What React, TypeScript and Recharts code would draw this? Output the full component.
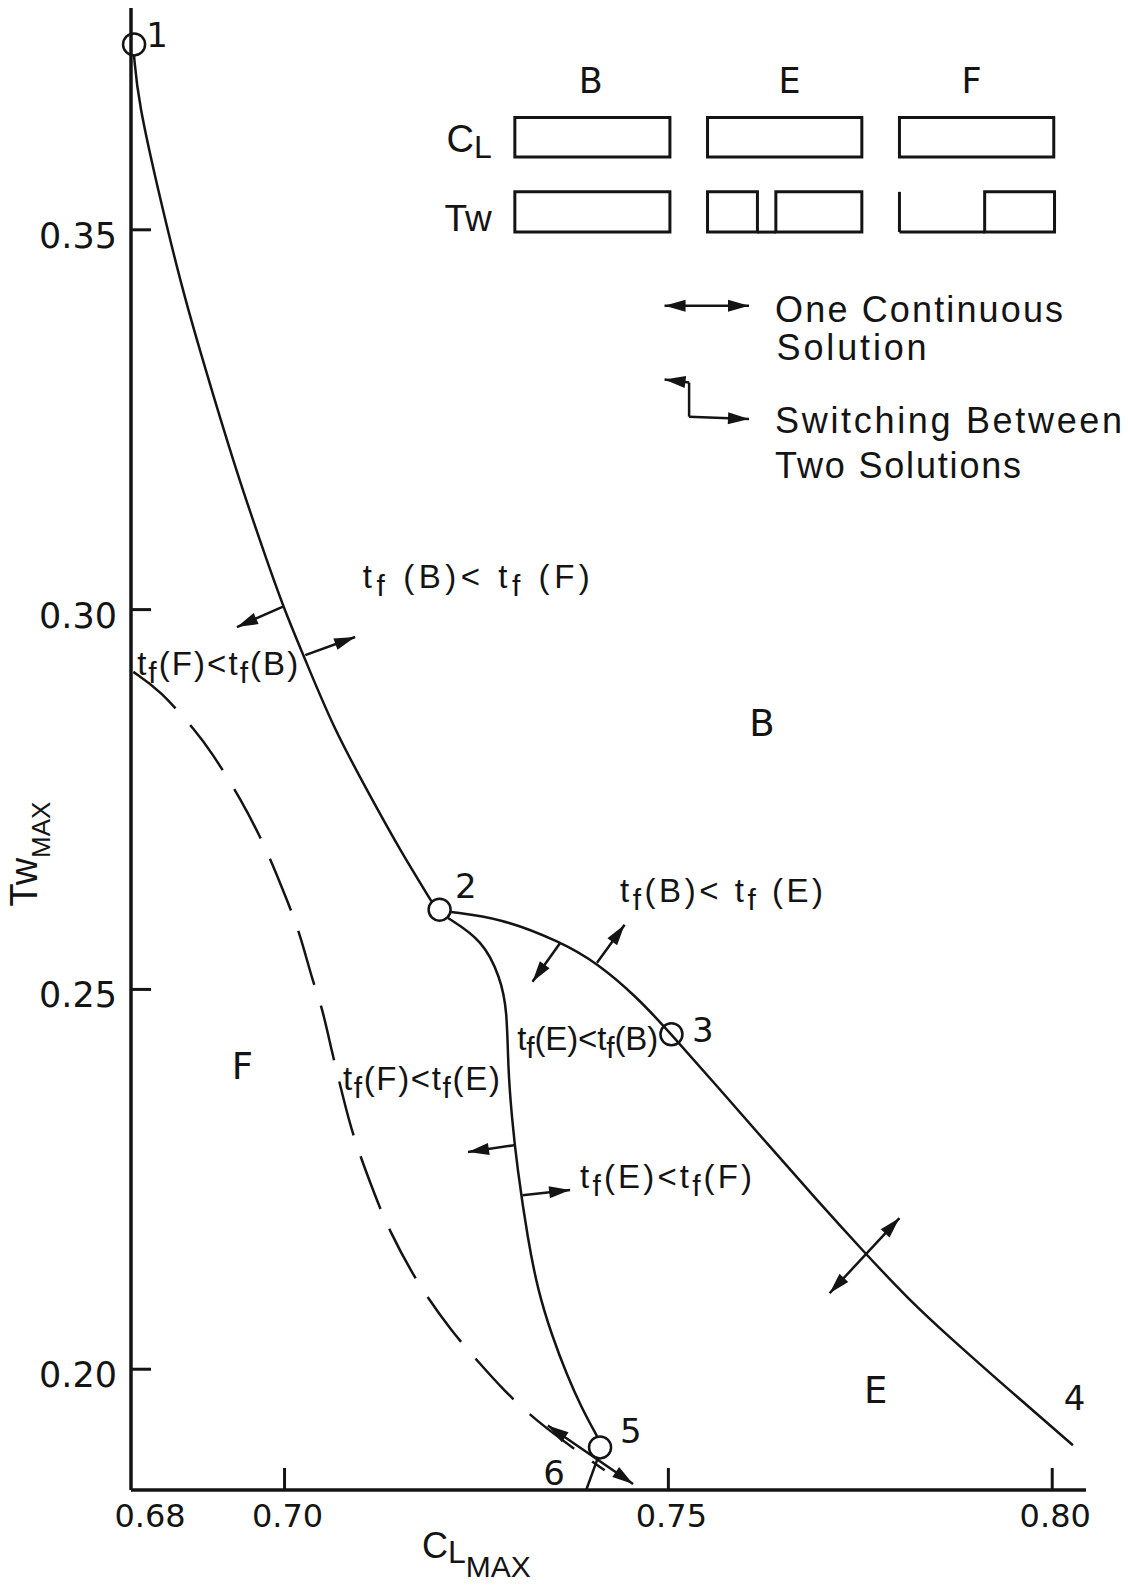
import React from "react";
import {
  Line,
  LineChart,
  ReferenceArea,
  ReferenceDot,
  ReferenceLine,
  XAxis,
  YAxis,
} from "recharts";

const INK = "#141414";
const FONT = "'DejaVu Sans', Verdana, sans-serif";
const LETTERING = "'Liberation Sans', Arial, sans-serif";

const X_DOMAIN: [number, number] = [0.68, 0.8044];
const Y_DOMAIN: [number, number] = [0.1841, 0.3792];

const xTicks = [0.68, 0.7, 0.75, 0.8];
const yTicks = [0.2, 0.25, 0.3, 0.35];

// Boundary curves as (CL_max, Tw_max) pairs.
// 1 -> 2: B / F boundary
const boundaryBF = [
  [0.6804, 0.3729], [0.6809, 0.3671], [0.6838, 0.354], [0.687, 0.3408],
  [0.6909, 0.3276], [0.6939, 0.3177], [0.6972, 0.3079], [0.6998, 0.3004],
  [0.7027, 0.2934], [0.7063, 0.2846], [0.7107, 0.2763], [0.715, 0.2684],
  [0.7192, 0.2615],
];
// 2 -> 3 -> 4: B / E boundary
const boundaryBE = [
  [0.7217, 0.2602], [0.7281, 0.2594], [0.7359, 0.2563], [0.7407, 0.2535],
  [0.7459, 0.249], [0.7502, 0.2443], [0.7563, 0.2373], [0.7628, 0.2298],
  [0.7693, 0.2223], [0.7756, 0.2153], [0.7814, 0.2091], [0.7863, 0.2045],
  [0.7948, 0.1969], [0.8027, 0.19],
];
// 2 -> 5: E / F boundary
const boundaryEF = [
  [0.7213, 0.2594], [0.7258, 0.2565], [0.7281, 0.2516], [0.729, 0.2473],
  [0.7291, 0.2398], [0.7296, 0.2332], [0.7303, 0.2266], [0.7317, 0.217],
  [0.733, 0.2104], [0.7348, 0.2045], [0.7368, 0.1992], [0.7387, 0.1949],
  [0.7407, 0.1912],
];
// 5 -> 6 down to the axis
const boundary56 = [
  [0.7393, 0.1841], [0.7408, 0.1883],
];
// dashed F boundary
const boundaryF = [
  [0.6803, 0.2918], [0.6838, 0.2894], [0.6886, 0.2838], [0.6903, 0.2815],
  [0.6942, 0.2753], [0.6977, 0.2684], [0.7003, 0.2618], [0.702, 0.2574],
  [0.7037, 0.2509], [0.7049, 0.2477], [0.7062, 0.2416], [0.7075, 0.2364],
  [0.7089, 0.2306], [0.712, 0.2223], [0.7135, 0.2186], [0.7172, 0.2114],
  [0.7219, 0.2048], [0.7254, 0.2008], [0.7283, 0.1975], [0.7326, 0.1933],
  [0.7394, 0.1883], [0.7417, 0.1867],
];

const circledPoints = [
  [0.6804, 0.3744], [0.7202, 0.2605], [0.7504, 0.2441], [0.7411, 0.1897],
];

const pointNumbers = [
  { label: "1", x: 0.6834, y: 0.3741 },
  { label: "2", x: 0.7236, y: 0.262 },
  { label: "3", x: 0.7545, y: 0.2431 },
  { label: "4", x: 0.8029, y: 0.1946 },
  { label: "5", x: 0.7451, y: 0.1903 },
  { label: "6", x: 0.7351, y: 0.1847 },
];

const regionLabels = [
  { label: "B", x: 0.7622, y: 0.2834 },
  { label: "F", x: 0.6945, y: 0.2382 },
  { label: "E", x: 0.777, y: 0.1955 },
];

const tfLabels = [
  { label: "t_f (B)< t_f (F)", x: 0.7102, y: 0.3029, width: 227 },
  { label: "t_f(F)<t_f(B)", x: 0.6808, y: 0.2914, width: 161 },
  { label: "t_f(B)< t_f (E)", x: 0.7437, y: 0.2615, width: 203 },
  { label: "t_f(E)<t_f(B)", x: 0.7303, y: 0.242, width: 141 },
  { label: "t_f(F)<t_f(E)", x: 0.7076, y: 0.2368, width: 157 },
  { label: "t_f(E)<t_f(F)", x: 0.7385, y: 0.2239, width: 172 },
];

type Heads = "none" | "end" | "both";
const arrows: { from: number[]; to: number[]; heads: Heads }[] = [
  { from: [0.6998, 0.3004], to: [0.6938, 0.2977], heads: "end" },
  { from: [0.7027, 0.294], to: [0.7092, 0.2964], heads: "end" },
  { from: [0.7359, 0.2561], to: [0.7323, 0.251], heads: "end" },
  { from: [0.7407, 0.2535], to: [0.7443, 0.2585], heads: "end" },
  { from: [0.73, 0.2295], to: [0.7239, 0.2286], heads: "end" },
  { from: [0.731, 0.2229], to: [0.7372, 0.2236], heads: "end" },
  { from: [0.771, 0.21], to: [0.7801, 0.2199], heads: "both" },
  { from: [0.7343, 0.1926], to: [0.7454, 0.1849], heads: "both" },
  // legend symbols
  { from: [0.7495, 0.34], to: [0.7605, 0.34], heads: "both" },
  { from: [0.7527, 0.3299], to: [0.7495, 0.3303], heads: "end" },
  { from: [0.7527, 0.3299], to: [0.7527, 0.3254], heads: "none" },
  { from: [0.7527, 0.3254], to: [0.7605, 0.3251], heads: "end" },
];

// control-history sketches in the top-right key: [x1, x2, y1, y2]
const keyBoxes = [
  [0.73, 0.7502, 0.3596, 0.3648],
  [0.7551, 0.7752, 0.3596, 0.3648],
  [0.7801, 0.8002, 0.3596, 0.3648],
  [0.73, 0.7502, 0.3497, 0.355],
  [0.7551, 0.7616, 0.3497, 0.355],
  [0.764, 0.7752, 0.3497, 0.355],
  [0.7912, 0.8003, 0.3497, 0.355],
];
const keyStrokes = [
  [0.7801, 0.3497, 0.7801, 0.355],
  [0.7801, 0.3497, 0.7912, 0.3497],
  [0.7616, 0.3497, 0.764, 0.3497],
];
const keyHeads = [
  { label: "B", x: 0.7399, y: 0.368 },
  { label: "E", x: 0.7658, y: 0.368 },
  { label: "F", x: 0.7895, y: 0.368 },
];
const keyText = [
  { label: "One Continuous", x: 0.7639, y: 0.3379, width: 288 },
  { label: "Solution", x: 0.7641, y: 0.3329, width: 150 },
  { label: "Switching Between", x: 0.7639, y: 0.3233, width: 347 },
  { label: "Two Solutions", x: 0.7639, y: 0.3173, width: 246 },
];

const toPoints = (rows: number[][]) => rows.map(([x, y]) => ({ x, y }));

function arrowShape(heads: Heads) {
  return (props: any) => {
    const { x1, y1, x2, y2 } = props;
    const head = (tx: number, ty: number, fx: number, fy: number) => {
      const len = Math.hypot(tx - fx, ty - fy) || 1;
      const ux = (tx - fx) / len;
      const uy = (ty - fy) / len;
      const bx = tx - ux * 21;
      const by = ty - uy * 21;
      return (
        <polygon
          points={`${tx},${ty} ${bx - uy * 6},${by + ux * 6} ${bx + uy * 6},${by - ux * 6}`}
          fill={INK}
        />
      );
    };
    return (
      <g>
        <line x1={x1} y1={y1} x2={x2} y2={y2} stroke={INK} strokeWidth={2.5} />
        {heads !== "none" && head(x2, y2, x1, y1)}
        {heads === "both" && head(x1, y1, x2, y2)}
      </g>
    );
  };
}

function TfText({ x, y, text, width }: { x: number; y: number; text: string; width: number }) {
  const parts = text.split("_f");
  const nodes: React.ReactNode[] = [];
  parts.forEach((part, i) => {
    if (i === 0) {
      nodes.push(part);
      return;
    }
    nodes.push(
      <tspan key={`f${i}`} dy={8} fontSize={30}>
        f
      </tspan>,
    );
    nodes.push(
      <tspan key={`p${i}`} dy={-8}>
        {part}
      </tspan>,
    );
  });
  return (
    <text
      x={x}
      y={y}
      fontSize={33}
      fontFamily={LETTERING}
      fill={INK}
      textLength={width}
      lengthAdjust="spacing"
      style={{ whiteSpace: "pre" }}
    >
      {nodes}
    </text>
  );
}

const XTick = (props: any) => {
  const { x, y, payload } = props;
  const corner = payload.value === xTicks[0];
  return (
    <g>
      {!corner && <line x1={x} y1={y} x2={x} y2={y - 22} stroke={INK} strokeWidth={3} />}
      <text
        x={x + (corner ? 19 : 3)}
        y={y + 37}
        textAnchor="middle"
        fontSize={32}
        fontFamily={FONT}
        fill={INK}
      >
        {payload.value.toFixed(2)}
      </text>
    </g>
  );
};

const YTick = (props: any) => {
  const { x, y, payload } = props;
  return (
    <g>
      <line x1={x} y1={y} x2={x + 20} y2={y} stroke={INK} strokeWidth={3} />
      <text x={x - 14} y={y + 18} textAnchor="end" fontSize={35} fontFamily={FONT} fill={INK}>
        {payload.value.toFixed(2)}
      </text>
    </g>
  );
};

const XLabel = (props: any) => {
  const { viewBox } = props;
  return (
    <text x={viewBox.x + 291} y={viewBox.y + 68} fontSize={36} fontFamily={LETTERING} fill={INK}>
      C
      <tspan fontSize={32} dy={5}>
        L
      </tspan>
      <tspan fontSize={30} dy={14}>
        MAX
      </tspan>
    </text>
  );
};

const YLabel = (props: any) => {
  const { viewBox } = props;
  const cx = viewBox.x + 37;
  const cy = viewBox.y + 846;
  return (
    <text
      x={cx}
      y={cy}
      textAnchor="middle"
      transform={`rotate(-90, ${cx}, ${cy})`}
      fontSize={38}
      fontFamily={LETTERING}
      fill={INK}
    >
      Tw
      <tspan fontSize={26} dy={13}>
        MAX
      </tspan>
    </text>
  );
};

const plainText =
  (
    label: string,
    size: number,
    anchor: "start" | "middle" | "end" = "middle",
    width?: number,
    family: string = FONT,
  ) =>
  (p: any) => (
    <text
      x={p.cx}
      y={p.cy}
      textAnchor={anchor}
      fontSize={size}
      fontFamily={family}
      fill={INK}
      textLength={width}
      lengthAdjust={width ? "spacing" : undefined}
    >
      {label}
    </text>
  );

const curve = (rows: number[][], key: string, dashed = false, type: "basis" | "linear" = "basis") => (
  <Line
    key={key}
    data={toPoints(rows)}
    dataKey="y"
    type={type}
    stroke={INK}
    strokeWidth={2.5}
    strokeDasharray={dashed ? "56 22" : undefined}
    dot={false}
    activeDot={false}
    isAnimationActive={false}
  />
);

export default function App() {
  return (
    <div
      style={{ position: "absolute", left: 0, top: 0, width: 1128, height: 1588, background: "#fff" }}
    >
      <LineChart width={1128} height={1588} margin={{ top: 8, right: 42, bottom: 0, left: 0 }}>
        <XAxis
          type="number"
          dataKey="x"
          domain={X_DOMAIN}
          allowDataOverflow
          ticks={xTicks}
          interval={0}
          height={98}
          tickSize={0}
          tickMargin={0}
          tickLine={false}
          axisLine={{ stroke: INK, strokeWidth: 3.5 }}
          tick={<XTick />}
          label={XLabel}
        />
        <YAxis
          type="number"
          dataKey="y"
          domain={Y_DOMAIN}
          allowDataOverflow
          ticks={yTicks}
          interval={0}
          width={131}
          tickSize={0}
          tickMargin={0}
          tickLine={false}
          axisLine={{ stroke: INK, strokeWidth: 3.5 }}
          tick={<YTick />}
          label={YLabel}
        />

        {curve(boundaryBF, "bf")}
        {curve(boundaryBE, "be")}
        {curve(boundaryEF, "ef")}
        {curve(boundary56, "56", false, "linear")}
        {curve(boundaryF, "f", true)}

        {circledPoints.map(([x, y], i) => (
          <ReferenceDot key={`c${i}`} x={x} y={y} r={11} fill="none" stroke={INK} strokeWidth={2.5} />
        ))}

        {arrows.map((a, i) => (
          <ReferenceLine
            key={`a${i}`}
            segment={[
              { x: a.from[0], y: a.from[1] },
              { x: a.to[0], y: a.to[1] },
            ]}
            shape={arrowShape(a.heads)}
          />
        ))}

        {keyBoxes.map(([x1, x2, y1, y2], i) => (
          <ReferenceArea
            key={`k${i}`}
            x1={x1}
            x2={x2}
            y1={y1}
            y2={y2}
            fill="none"
            stroke={INK}
            strokeWidth={3}
          />
        ))}
        {keyStrokes.map(([xa, ya, xb, yb], i) => (
          <ReferenceLine
            key={`ks${i}`}
            segment={[
              { x: xa, y: ya },
              { x: xb, y: yb },
            ]}
            stroke={INK}
            strokeWidth={3}
          />
        ))}

        {pointNumbers.map((t) => (
          <ReferenceDot key={`n${t.label}`} x={t.x} y={t.y} r={1} shape={plainText(t.label, 34)} />
        ))}
        {regionLabels.map((t) => (
          <ReferenceDot key={`r${t.label}`} x={t.x} y={t.y} r={1} shape={plainText(t.label, 37)} />
        ))}
        {keyHeads.map((t) => (
          <ReferenceDot key={`h${t.label}`} x={t.x} y={t.y} r={1} shape={plainText(t.label, 35)} />
        ))}
        {keyText.map((t) => (
          <ReferenceDot
            key={`t${t.label}`}
            x={t.x}
            y={t.y}
            r={1}
            shape={plainText(t.label, 36, "start", t.width, LETTERING)}
          />
        ))}
        <ReferenceDot
          x={0.727}
          y={0.3603}
          r={1}
          shape={(p: any) => (
            <text x={p.cx} y={p.cy} textAnchor="end" fontSize={38} fontFamily={LETTERING} fill={INK}>
              C
              <tspan fontSize={32} dy={6}>
                L
              </tspan>
            </text>
          )}
        />
        <ReferenceDot
          x={0.727}
          y={0.3499}
          r={1}
          shape={plainText("Tw", 37, "end", undefined, LETTERING)}
        />

        {tfLabels.map((t) => (
          <ReferenceDot
            key={`tf${t.label}`}
            x={t.x}
            y={t.y}
            r={1}
            shape={(p: any) => <TfText x={p.cx} y={p.cy} text={t.label} width={t.width} />}
          />
        ))}
      </LineChart>
    </div>
  );
}
